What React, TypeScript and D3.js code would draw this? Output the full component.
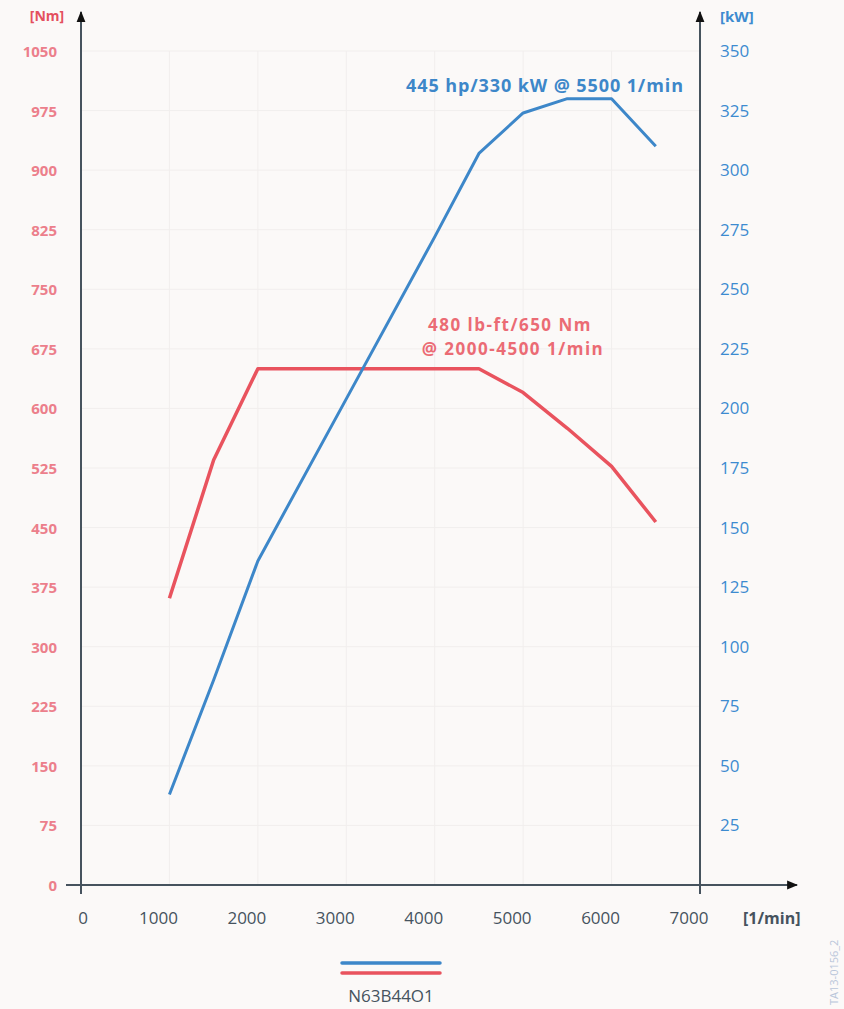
import * as React from 'react';
import { useRef, useEffect } from 'react';
import * as d3 from 'd3';

// engine speed [1/min]
const powerRpm = [1000, 1500, 2000, 3000, 4000, 4500, 5000, 5500, 6000, 6500];
const powerKw = [38, 86, 136, 204, 272, 307, 324, 330, 330, 310];

const torqueRpm = [1000, 1500, 2000, 4500, 5000, 5500, 6000, 6500];
const torqueNm = [361, 535, 650, 650, 620, 575, 527, 457];

const rpmTicks = [0, 1000, 2000, 3000, 4000, 5000, 6000, 7000];
const nmTicks = [0, 75, 150, 225, 300, 375, 450, 525, 600, 675, 750, 825, 900, 975, 1050];
const kwTicks = [25, 50, 75, 100, 125, 150, 175, 200, 225, 250, 275, 300, 325, 350];

const W = 844;
const H = 1009;
const BLUE = '#3d87c9';
const RED = '#e9535e';
const AXIS = '#46535e';
const FONT = '"Open Sans", "DejaVu Sans", sans-serif';

export default function App() {
  const svgRef = useRef<SVGSVGElement | null>(null);

  useEffect(() => {
    if (!svgRef.current) return;
    const svg = d3.select(svgRef.current);
    svg.selectAll('*').remove();

    const x = d3.scaleLinear().domain([0, 7000]).range([81, 700]);
    const yNm = d3.scaleLinear().domain([0, 1050]).range([885, 51]);
    const yKw = d3.scaleLinear().domain([0, 350]).range([885, 51]);

    svg.append('rect').attr('width', W).attr('height', H).attr('fill', '#fbf9f8');

    // faint grid
    const grid = svg.append('g').attr('stroke', '#f1eeed').attr('stroke-width', 1);
    nmTicks.slice(1).forEach(t => {
      grid.append('line').attr('x1', x(0)).attr('x2', x(7000)).attr('y1', yNm(t)).attr('y2', yNm(t));
    });
    rpmTicks.slice(1, -1).forEach(t => {
      grid.append('line').attr('x1', x(t)).attr('x2', x(t)).attr('y1', yNm(0)).attr('y2', yNm(1050));
    });

    // arrow marker
    const defs = svg.append('defs');
    defs.append('marker')
      .attr('id', 'arr')
      .attr('viewBox', '0 0 10 10')
      .attr('refX', 9)
      .attr('refY', 5)
      .attr('markerWidth', 11)
      .attr('markerHeight', 11)
      .attr('markerUnits', 'userSpaceOnUse')
      .attr('orient', 'auto')
      .append('path')
      .attr('d', 'M0,1 L10,5 L0,9 z')
      .attr('fill', '#111');

    const axes = svg.append('g').attr('stroke', AXIS).attr('stroke-width', 2);
    axes.append('line').attr('x1', x(0)).attr('x2', x(0)).attr('y1', 894).attr('y2', 12).attr('marker-end', 'url(#arr)');
    axes.append('line').attr('x1', x(7000)).attr('x2', x(7000)).attr('y1', 894).attr('y2', 12).attr('marker-end', 'url(#arr)');
    axes.append('line').attr('x1', 66).attr('x2', 797).attr('y1', yNm(0)).attr('y2', yNm(0)).attr('marker-end', 'url(#arr)');

    // left labels
    svg.append('g')
      .selectAll('text')
      .data(nmTicks)
      .join('text')
      .attr('x', 57)
      .attr('y', d => yNm(d) + 6)
      .attr('text-anchor', 'end')
      .attr('font-family', FONT)
      .attr('font-weight', 'bold')
      .attr('font-size', 15)
      .attr('fill', '#ea6a79')
      .attr('opacity', 0.85)
      .text(d => d);
    svg.append('text')
      .attr('x', 47).attr('y', 21)
      .attr('text-anchor', 'middle')
      .attr('font-family', FONT).attr('font-weight', 'bold').attr('font-size', 14)
      .attr('fill', '#e4505f')
      .text('[Nm]');

    // right labels
    svg.append('g')
      .selectAll('text')
      .data(kwTicks)
      .join('text')
      .attr('x', 720)
      .attr('y', d => yKw(d) + 6)
      .attr('text-anchor', 'start')
      .attr('font-family', FONT)
      .attr('font-size', 17)
      .attr('fill', '#3d8bd0')
      .text(d => d);
    svg.append('text')
      .attr('x', 720).attr('y', 22)
      .attr('font-family', FONT).attr('font-weight', 'bold').attr('font-size', 15)
      .attr('fill', '#3d8bd0')
      .text('[kW]');

    // x labels
    svg.append('g')
      .selectAll('text')
      .data(rpmTicks)
      .join('text')
      .attr('x', d => x(d) + (d === 0 ? 2 : -11))
      .attr('y', 924)
      .attr('text-anchor', 'middle')
      .attr('font-family', FONT)
      .attr('font-size', 17)
      .attr('fill', AXIS)
      .text(d => d);
    svg.append('text')
      .attr('x', 743).attr('y', 924)
      .attr('font-family', FONT).attr('font-weight', 'bold').attr('font-size', 16)
      .attr('fill', AXIS)
      .text('[1/min]');

    // curves
    const powerLine = d3.line<number>().x((_, i) => x(powerRpm[i])).y(d => yKw(d));
    const torqueLine = d3.line<number>().x((_, i) => x(torqueRpm[i])).y(d => yNm(d));

    svg.append('path')
      .attr('d', torqueLine(torqueNm))
      .attr('fill', 'none')
      .attr('stroke', RED)
      .attr('stroke-width', 3.5)
      .attr('stroke-linejoin', 'round');
    svg.append('path')
      .attr('d', powerLine(powerKw))
      .attr('fill', 'none')
      .attr('stroke', BLUE)
      .attr('stroke-width', 3)
      .attr('stroke-linejoin', 'round');

    // annotations
    svg.append('text')
      .attr('x', 545).attr('y', 92)
      .attr('text-anchor', 'middle')
      .attr('font-family', FONT).attr('font-weight', 'bold').attr('font-size', 18)
      .attr('letter-spacing', 0.9)
      .attr('fill', BLUE)
      .text('445 hp/330 kW @ 5500 1/min');
    svg.append('text')
      .attr('x', 510).attr('y', 331)
      .attr('text-anchor', 'middle')
      .attr('font-family', FONT).attr('font-weight', 'bold').attr('font-size', 17)
      .attr('letter-spacing', 1.5)
      .attr('fill', RED).attr('opacity', 0.85)
      .text('480 lb-ft/650 Nm');
    svg.append('text')
      .attr('x', 513).attr('y', 355)
      .attr('text-anchor', 'middle')
      .attr('font-family', FONT).attr('font-weight', 'bold').attr('font-size', 17)
      .attr('letter-spacing', 1.5)
      .attr('fill', RED).attr('opacity', 0.85)
      .text('@ 2000-4500 1/min');

    // legend
    svg.append('line').attr('x1', 342).attr('x2', 440).attr('y1', 963).attr('y2', 963)
      .attr('stroke', BLUE).attr('stroke-width', 3.5).attr('stroke-linecap', 'round');
    svg.append('line').attr('x1', 342).attr('x2', 440).attr('y1', 973).attr('y2', 973)
      .attr('stroke', RED).attr('stroke-width', 3.5).attr('stroke-linecap', 'round');
    svg.append('text')
      .attr('x', 391).attr('y', 1002)
      .attr('text-anchor', 'middle')
      .attr('font-family', FONT).attr('font-size', 17)
      .attr('fill', AXIS)
      .text('N63B44O1');

    svg.append('text')
      .attr('transform', 'translate(838, 1005) rotate(-90)')
      .attr('font-family', FONT).attr('font-size', 11)
      .attr('fill', '#b9c6da')
      .text('TA13-0156_2');
  }, []);

  return (
    <svg
      ref={svgRef}
      width={W}
      height={H}
      style={{ position: 'absolute', top: 0, left: 0, display: 'block' }}
    />
  );
}
